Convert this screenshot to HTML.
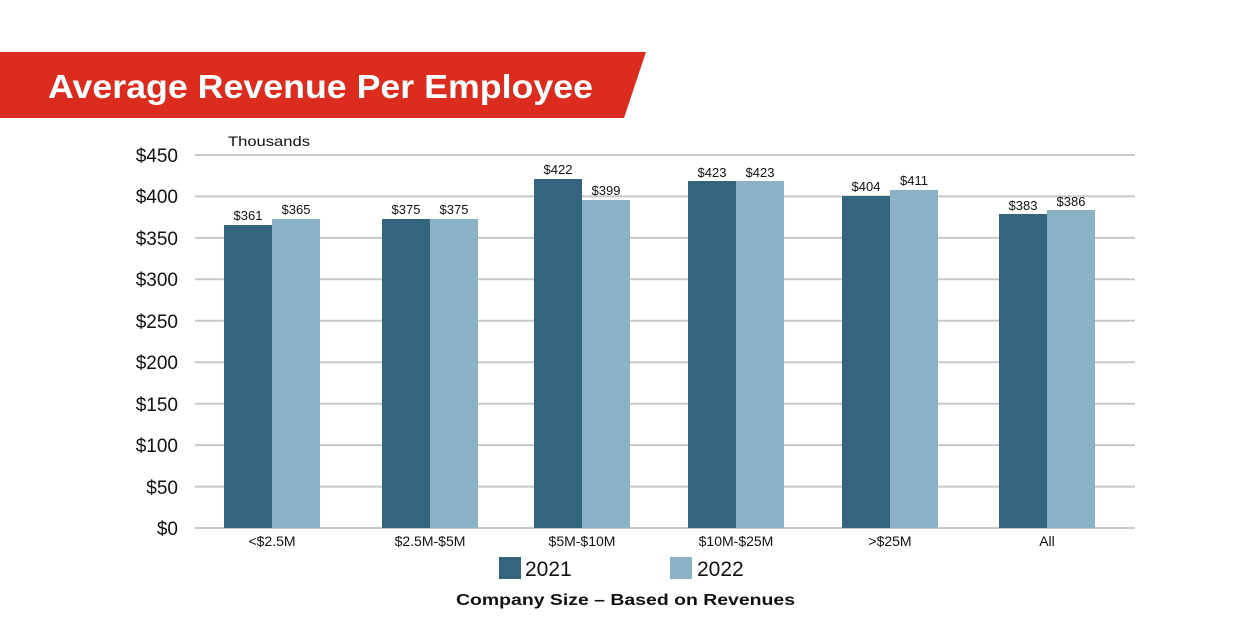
<!DOCTYPE html>
<html><head><meta charset="utf-8"><style>
html,body{margin:0;padding:0;background:#fff;}
svg{display:block;}
text{font-family:"Liberation Sans",Arial,sans-serif;}
</style></head><body>
<svg width="1250" height="625" viewBox="0 0 1250 625" xmlns="http://www.w3.org/2000/svg">
<rect width="1250" height="625" fill="#fff"/>
<polygon points="0,52 646,52 624,118 0,118" fill="#dc2b1f"/>
<text x="48" y="98" font-size="33" font-weight="bold" fill="#fff" textLength="545" lengthAdjust="spacingAndGlyphs">Average Revenue Per Employee</text>
<text x="228" y="146" font-size="14" fill="#111" textLength="82" lengthAdjust="spacingAndGlyphs">Thousands</text>
<g stroke="#c8c8c8" stroke-width="2">
<line x1="195" y1="155" x2="1135" y2="155"/>
<line x1="195" y1="196.4" x2="1135" y2="196.4"/>
<line x1="195" y1="237.9" x2="1135" y2="237.9"/>
<line x1="195" y1="279.3" x2="1135" y2="279.3"/>
<line x1="195" y1="320.8" x2="1135" y2="320.8"/>
<line x1="195" y1="362.2" x2="1135" y2="362.2"/>
<line x1="195" y1="403.7" x2="1135" y2="403.7"/>
<line x1="195" y1="445.1" x2="1135" y2="445.1"/>
<line x1="195" y1="486.6" x2="1135" y2="486.6"/>
<line x1="195" y1="528" x2="1135" y2="528"/>
</g>
<g font-size="19" fill="#111" text-anchor="end">
<text x="178" y="162">$450</text>
<text x="178" y="203">$400</text>
<text x="178" y="245">$350</text>
<text x="178" y="286">$300</text>
<text x="178" y="328">$250</text>
<text x="178" y="369">$200</text>
<text x="178" y="411">$150</text>
<text x="178" y="452">$100</text>
<text x="178" y="494">$50</text>
<text x="178" y="535">$0</text>
</g>
<g fill="#34657f">
<rect x="224" y="225" width="48" height="303"/>
<rect x="382" y="219" width="48" height="309"/>
<rect x="534" y="179" width="48" height="349"/>
<rect x="688" y="181" width="48" height="347"/>
<rect x="842" y="196" width="48" height="332"/>
<rect x="999" y="214" width="48" height="314"/>
</g>
<g fill="#8bb1c4">
<rect x="272" y="219" width="48" height="309"/>
<rect x="430" y="219" width="48" height="309"/>
<rect x="582" y="200" width="48" height="328"/>
<rect x="736" y="181" width="48" height="347"/>
<rect x="890" y="190" width="48" height="338"/>
<rect x="1047" y="210" width="48" height="318"/>
</g>
<g font-size="13" fill="#111" text-anchor="middle">
<text x="248" y="220">$361</text><text x="296" y="214">$365</text>
<text x="406" y="214">$375</text><text x="454" y="214">$375</text>
<text x="558" y="174">$422</text><text x="606" y="195">$399</text>
<text x="712" y="177">$423</text><text x="760" y="177">$423</text>
<text x="866" y="191">$404</text><text x="914" y="185">$411</text>
<text x="1023" y="210">$383</text><text x="1071" y="206">$386</text>
</g>
<g font-size="14" fill="#111" text-anchor="middle">
<text x="272" y="546">&lt;$2.5M</text>
<text x="430" y="546">$2.5M-$5M</text>
<text x="582" y="546">$5M-$10M</text>
<text x="736" y="546">$10M-$25M</text>
<text x="890" y="546">&gt;$25M</text>
<text x="1047" y="546">All</text>
</g>
<rect x="499" y="557" width="22" height="22" fill="#34657f"/>
<text x="525" y="576" font-size="21" fill="#111">2021</text>
<rect x="670" y="557" width="22" height="22" fill="#8bb1c4"/>
<text x="697" y="576" font-size="21" fill="#111">2022</text>
<text x="456" y="605" font-size="16" font-weight="bold" fill="#111" textLength="339" lengthAdjust="spacingAndGlyphs">Company Size – Based on Revenues</text>
</svg>
</body></html>
